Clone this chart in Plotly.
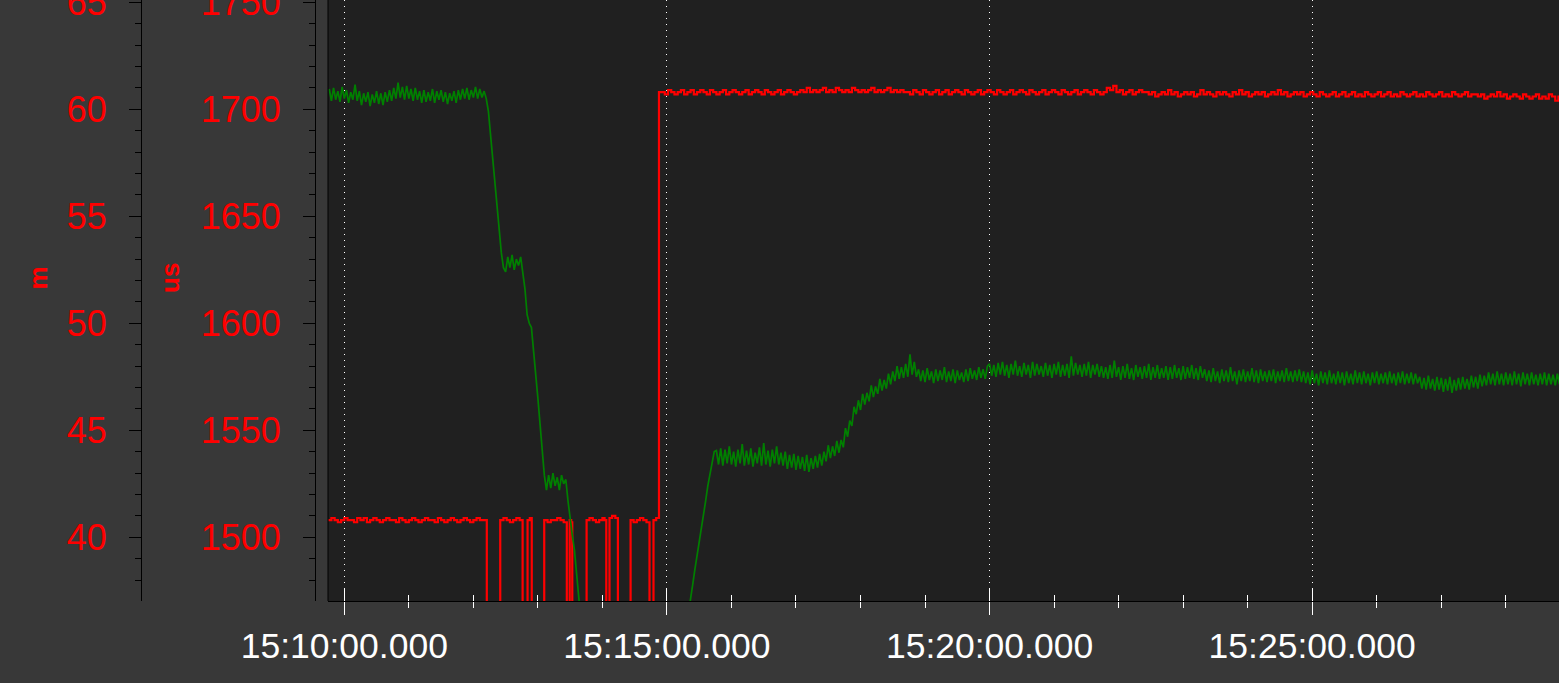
import pandas as pd
import plotly.graph_objects as go

# ---------------- data ----------------
BASE = pd.Timestamp("2024-01-01 15:10:00")

# green series: depth in m, sampled every 2 s starting at -14 s from 15:10:00
green_t0 = -14
green_step = 2
green_m = [
    # -14 .. 130 s
    60.95, 60.40, 61.00, 60.45, 60.85, 60.35, 61.05, 60.50, 60.90, 60.30,
    60.80, 60.45, 61.15, 60.40, 60.85, 60.20, 60.75, 60.35, 60.80, 60.15,
    60.70, 60.30, 60.85, 60.25, 60.75, 60.20, 60.80, 60.35, 60.90, 60.40,
    61.00, 60.50, 61.25, 60.55, 61.05, 60.45, 61.10, 60.50, 60.95, 60.40,
    61.00, 60.45, 60.85, 60.30, 60.90, 60.35, 60.80, 60.40, 60.95, 60.30,
    60.85, 60.45, 60.90, 60.35, 60.80, 60.25, 60.75, 60.40, 60.85, 60.30,
    60.90, 60.45, 60.95, 60.50, 61.00, 60.45, 60.90, 60.55, 61.05, 60.50,
    60.95, 60.55, 60.85,
    # 132 .. 218 s
    60.50, 59.90, 58.80, 57.60, 56.50, 55.40, 54.30, 53.30, 52.60,
    52.40, 53.10, 52.60, 53.20, 52.50, 53.00, 52.70, 53.10,
    52.30, 51.60, 50.40, 50.00, 49.80, 48.80, 47.60, 46.50, 45.30, 44.00, 42.90,
    42.20, 42.90, 42.30, 43.00, 42.40, 42.80, 42.20, 42.90, 42.50, 42.70,
    41.70, 40.80, 40.10, 39.40, 38.40, 37.40,
    # 220 .. 316 s (below the visible range)
    36.50, 35.00, 35.00, 35.00, 35.00, 35.00, 35.00, 35.00, 35.00, 35.00,
    35.00, 35.00, 35.00, 35.00, 35.00, 35.00, 35.00, 35.00, 35.00, 35.00,
    35.00, 35.00, 35.00, 35.00, 35.00, 35.00, 35.00, 35.00, 35.00, 35.00,
    35.00, 35.00, 35.00, 35.00, 35.00, 35.00, 35.00, 35.00, 35.00, 35.00,
    35.00, 35.00, 35.00, 35.00, 35.00, 35.00, 35.00, 35.00, 35.00,
    # 318 .. 344 s
    35.80, 36.40, 37.10, 37.80, 38.50, 39.10, 39.80, 40.40, 41.10, 41.70,
    42.40, 43.00, 43.60, 44.00,
    # 346 .. 444 s
    44.05, 43.40, 44.15, 43.35, 44.10, 43.45, 44.25, 43.40, 44.00, 43.30,
    44.10, 43.45, 44.35, 43.35, 44.05, 43.40, 44.15, 43.30, 43.95, 43.45,
    44.20, 43.35, 44.40, 43.40, 44.05, 43.30, 44.10, 43.45, 44.25, 43.40,
    43.95, 43.35, 44.00, 43.20, 43.85, 43.25, 43.90, 43.15, 43.80, 43.20,
    43.75, 43.10, 43.85, 43.05, 43.70, 43.20, 43.80, 43.25, 43.90, 43.35,
    # 446 .. 532 s
    44.00, 43.55, 44.30, 43.70, 44.25, 43.80, 44.50, 43.95, 44.55, 44.20,
    45.10, 44.70, 45.45, 45.20, 46.10, 45.75, 46.40, 45.95, 46.70, 46.20,
    46.75, 46.35, 47.10, 46.55, 47.05, 46.70, 47.40, 46.85, 47.35, 46.95,
    47.65, 47.15, 47.75, 47.30, 48.00, 47.40, 47.95, 47.45, 48.10, 47.50,
    48.55, 47.60, 48.20, 47.50,
    # 534 .. 598 s
    47.85, 47.30, 47.80, 47.25, 47.90, 47.35, 47.75, 47.20, 47.85, 47.30,
    47.80, 47.35, 47.95, 47.25, 47.75, 47.30, 47.85, 47.20, 47.80, 47.35,
    47.70, 47.25, 47.85, 47.30, 47.90, 47.40, 47.80, 47.35, 47.95, 47.45,
    47.85, 47.40, 48.00,
    # 600 .. 702 s
    48.10, 47.55, 48.05, 47.50, 48.15, 47.60, 48.20, 47.55, 48.05, 47.45,
    48.10, 47.60, 48.25, 47.55, 48.00, 47.50, 48.15, 47.60, 48.05, 47.45,
    48.20, 47.55, 48.10, 47.60, 48.00, 47.50, 48.15, 47.55, 48.05, 47.45,
    48.10, 47.60, 48.20, 47.50, 48.05, 47.55, 48.10, 47.45, 48.45, 47.55,
    48.15, 47.60, 48.05, 47.50, 48.10, 47.55, 48.20, 47.45, 48.05, 47.60,
    48.10, 47.50,
    # 704 .. 798 s
    48.00, 47.45, 47.95, 47.40, 48.05, 47.45, 48.25, 47.50, 47.95, 47.35,
    48.00, 47.45, 48.10, 47.40, 47.90, 47.35, 48.05, 47.50, 47.95, 47.40,
    48.00, 47.45, 48.10, 47.35, 47.95, 47.45, 48.05, 47.40, 47.90, 47.45,
    48.00, 47.35, 47.95, 47.40, 48.05, 47.45, 47.90, 47.35, 48.00, 47.40,
    47.95, 47.45, 48.05, 47.40, 47.90, 47.35, 48.00, 47.45,
    # 800 .. 890 s
    47.85, 47.30, 47.80, 47.25, 47.90, 47.30, 47.75, 47.20, 47.85, 47.30,
    47.80, 47.25, 47.95, 47.30, 47.75, 47.15, 47.80, 47.30, 47.85, 47.25,
    47.75, 47.30, 47.90, 47.25, 47.80, 47.20, 47.85, 47.30, 47.75, 47.25,
    47.80, 47.30, 47.85, 47.20, 47.75, 47.30, 47.80, 47.25, 47.90, 47.30,
    47.75, 47.25, 47.80, 47.30, 47.85, 47.25,
    # 892 .. 998 s
    47.75, 47.20, 47.70, 47.15, 47.80, 47.20, 47.65, 47.10, 47.75, 47.20,
    47.70, 47.15, 47.80, 47.20, 47.65, 47.15, 47.75, 47.20, 47.70, 47.10,
    47.75, 47.20, 47.65, 47.15, 47.80, 47.20, 47.70, 47.15, 47.75, 47.20,
    47.65, 47.10, 47.70, 47.20, 47.75, 47.15, 47.65, 47.20, 47.70, 47.15,
    47.75, 47.20, 47.65, 47.10, 47.70, 47.20, 47.75, 47.15, 47.65, 47.20,
    47.70, 47.15, 47.65, 47.20,
    # 1000 .. 1062 s
    47.50, 46.95, 47.45, 46.90, 47.55, 46.95, 47.40, 46.85, 47.50, 46.90,
    47.45, 46.80, 47.40, 46.85, 47.50, 46.75, 47.35, 46.85, 47.45, 46.90,
    47.50, 46.95, 47.40, 46.90, 47.55, 47.00, 47.50, 46.95, 47.60, 47.05,
    47.55, 47.10,
    # 1064 .. 1130 s
    47.70, 47.15, 47.65, 47.10, 47.75, 47.15, 47.65, 47.10, 47.70, 47.15,
    47.65, 47.10, 47.75, 47.15, 47.65, 47.05, 47.70, 47.15, 47.65, 47.10,
    47.70, 47.15, 47.60, 47.10, 47.65, 47.15, 47.70, 47.10, 47.65, 47.15,
    47.60, 47.10, 47.65, 47.15,
]

# red series: pulse width in us (step signal)
# low level before the first drop, sampled every 3 s from -15 s
red_lo_t0 = -15
red_lo_step = 3
red_lo_us = [
    1508, 1509, 1508, 1507, 1508, 1509, 1508, 1508, 1507, 1509,
    1508, 1509, 1507, 1508, 1509, 1508, 1507, 1508, 1509, 1508,
    1508, 1507, 1509, 1508, 1507, 1508, 1509, 1508, 1507, 1508,
    1509, 1508, 1508, 1507, 1509, 1508, 1507, 1508, 1509, 1508,
    1507, 1508, 1509, 1508, 1507, 1508, 1509, 1508, 1508,
]
# dropout section, irregular event times (s)
red_ev_t = [
    132.5, 145.0, 148, 151, 154, 157, 160, 163, 165.8, 170.4, 172.5, 174.3,
    185.9, 189, 192, 195, 198, 201, 204, 206.9, 209.6, 211, 212.0,
    225.3, 228, 231, 234, 237, 240, 242, 243.6, 246.6, 249, 252, 254.4,
    266.2, 269, 272, 275, 278, 281, 283.8, 287.5, 290, 292.6,
]
red_ev_us = [
    0, 1508, 1509, 1508, 1507, 1508, 1509, 1508, 0, 1508, 1509, 0,
    1508, 1507, 1508, 1508, 1509, 1508, 1507, 0, 1508, 1507, 0,
    1508, 1509, 1508, 1507, 1508, 1509, 1508, 0, 1509, 1510, 1509, 0,
    1508, 1507, 1508, 1509, 1508, 1507, 0, 1508, 1509, 1708,
]
# high level after the switch, sampled every 3 s from 295 s
red_hi_t0 = 295
red_hi_step = 3
red_hi_us = [
    1708, 1707, 1709, 1708, 1707, 1708, 1709, 1707, 1708, 1709,
    1707, 1708, 1709, 1708, 1707, 1709, 1708, 1707, 1708, 1709,
    1707, 1708, 1709, 1708, 1707, 1708, 1709, 1707, 1708, 1709,
    1708, 1707, 1709, 1708, 1707, 1708, 1709, 1707, 1708, 1709,
    1708, 1707, 1708,
    1709, 1708, 1710, 1708, 1709, 1708, 1709, 1710, 1708, 1709,
    1708, 1710, 1709, 1708, 1709, 1708, 1710, 1709, 1708, 1709,
    1708, 1709, 1710, 1708, 1709, 1708, 1709, 1710, 1708, 1709,
    1708, 1709, 1708,
    1708, 1707, 1709, 1708, 1707, 1709, 1708, 1707, 1708, 1709,
    1707, 1708, 1709, 1707, 1708, 1709, 1708, 1707, 1709, 1708,
    1707, 1708, 1709, 1707, 1708, 1709, 1708, 1707, 1709, 1708,
    1707, 1708, 1709, 1707, 1708, 1709, 1708, 1707, 1709, 1708,
    1707, 1708, 1709, 1707, 1708, 1709, 1708, 1707, 1709, 1708,
    1707, 1708, 1709, 1707, 1708, 1709, 1708, 1707, 1709, 1708,
    1707, 1708, 1710, 1709, 1711, 1708, 1709, 1707, 1708, 1709,
    1707, 1708, 1709, 1708,
    1708, 1707, 1708, 1706, 1707, 1708, 1707, 1709, 1707, 1708,
    1706, 1707, 1708, 1707, 1708, 1706, 1707, 1709, 1707, 1708,
    1707, 1706, 1708, 1707, 1708, 1707, 1706, 1708, 1707, 1709,
    1707, 1708, 1706, 1707, 1708, 1707, 1708, 1706, 1707, 1708,
    1707, 1709, 1707, 1708, 1706, 1707, 1708, 1707, 1708, 1706,
    1707, 1708,
    1707, 1706, 1708, 1707, 1706, 1707, 1708, 1706, 1707, 1708,
    1706, 1707, 1708, 1706, 1707, 1706, 1708, 1707, 1706, 1707,
    1708, 1706, 1707, 1708, 1706, 1707, 1706, 1708, 1707, 1706,
    1707, 1708, 1706, 1707, 1706, 1708, 1707, 1706, 1707, 1708,
    1706, 1707, 1706, 1708, 1707, 1706, 1707, 1708, 1706, 1707,
    1707, 1706, 1707, 1705, 1706, 1707, 1706, 1708, 1706, 1707,
    1705, 1706, 1707, 1706, 1705, 1707, 1706, 1705, 1706, 1707,
    1705, 1706, 1705, 1707, 1706, 1704, 1706, 1705,
]

x_start_s = -15.16
x_end_s = 1129.5
us_range = [1470.2, 1751.1]
m_range = [37.02, 65.11]

# ---------------- build ----------------
def ts(secs):
    return [BASE + pd.Timedelta(seconds=float(s)) for s in secs]

green_secs = [green_t0 + i * green_step for i in range(len(green_m))]
red_secs = ([red_lo_t0 + i * red_lo_step for i in range(len(red_lo_us))]
            + list(red_ev_t)
            + [red_hi_t0 + i * red_hi_step for i in range(len(red_hi_us))])
red_vals = list(red_lo_us) + list(red_ev_us) + list(red_hi_us)

W, H = 1559, 683
PLOT_LEFT = 328
BOTTOM = 82
FONT = "Liberation Sans, Arial, sans-serif"

fig = go.Figure()
fig.add_trace(go.Scatter(x=ts(red_secs), y=red_vals, mode="lines",
                         line=dict(color="#ff0000", width=2.2, shape="hv"),
                         xaxis="x", yaxis="y", hoverinfo="skip"))
fig.add_trace(go.Scatter(x=ts(green_secs), y=green_m, mode="lines",
                         line=dict(color="#008000", width=1.7),
                         xaxis="x", yaxis="y2", hoverinfo="skip"))
# carrier for the second (inside-tick) x axis
fig.add_trace(go.Scatter(x=[], y=[], xaxis="x2", yaxis="y", showlegend=False))

xr = [BASE + pd.Timedelta(seconds=x_start_s), BASE + pd.Timedelta(seconds=x_end_s)]
tick0 = BASE

common_x = dict(type="date", range=xr, tick0=tick0, dtick=300000,
                domain=[PLOT_LEFT / W, 1], anchor="y", zeroline=False, automargin=False)

fig.update_layout(
    width=W, height=H,
    margin=dict(l=0, r=0, t=0, b=BOTTOM, pad=0, autoexpand=False),
    paper_bgcolor="#383838", plot_bgcolor="#202020",
    showlegend=False,
    font=dict(family=FONT),
    xaxis=dict(**common_x,
               tickformat="%H:%M:%S.%L",
               ticks="outside", ticklen=13, tickwidth=1, tickcolor="white",
               tickfont=dict(size=35.5, color="white", family=FONT),
               ticklabelstandoff=0, ticklabeloverflow="allow",
               showgrid=True, gridcolor="white", gridwidth=1, griddash="1px,5px",
               minor=dict(dtick=60000, tick0=tick0, ticks="outside", ticklen=6,
                          tickwidth=1, tickcolor="white", showgrid=False),
               showline=True, linecolor="black", linewidth=1),
    xaxis2=dict(**common_x, overlaying="x",
                ticks="inside", ticklen=13, tickwidth=1, tickcolor="white",
                showticklabels=False, showgrid=False, showline=False,
                minor=dict(dtick=60000, tick0=tick0, ticks="inside", ticklen=6,
                           tickwidth=1, tickcolor="white", showgrid=False)),
    yaxis=dict(domain=[0, 1], range=us_range, anchor="free", position=315 / W, side="left",
               tick0=1500, dtick=50, ticks="outside", ticklen=12, tickwidth=1, tickcolor="black",
               minor=dict(tick0=1500, dtick=10, ticks="outside", ticklen=6, tickwidth=1,
                          tickcolor="black", showgrid=False),
               showline=True, linecolor="black", linewidth=1,
               showgrid=False, zeroline=False, automargin=False,
               tickfont=dict(size=36, color="#ff0000", family=FONT),
               ticklabelstandoff=15, ticklabeloverflow="allow"),
    yaxis2=dict(overlaying="y", range=m_range, anchor="free", position=141 / W, side="left",
                tick0=40, dtick=5, ticks="outside", ticklen=12, tickwidth=1, tickcolor="black",
                minor=dict(tick0=40, dtick=1, ticks="outside", ticklen=6, tickwidth=1,
                           tickcolor="black", showgrid=False),
                showline=True, linecolor="black", linewidth=1,
                showgrid=False, zeroline=False, automargin=False,
                tickfont=dict(size=36, color="#ff0000", family=FONT),
                ticklabelstandoff=15, ticklabeloverflow="allow"),
    shapes=[dict(type="line", xref="x domain", yref="y domain", x0=0, x1=0, y0=0, y1=1,
                 line=dict(color="black", width=1), layer="above")],
    annotations=[
        dict(text="<b>m</b>", x=37.5 / W, y=(H - BOTTOM - 278) / (H - BOTTOM),
             xref="paper", yref="paper", textangle=-90, showarrow=False,
             xanchor="center", yanchor="middle",
             font=dict(size=26, color="#ff0000", family=FONT)),
        dict(text="<b>us</b>", x=170 / W, y=(H - BOTTOM - 278) / (H - BOTTOM),
             xref="paper", yref="paper", textangle=-90, showarrow=False,
             xanchor="center", yanchor="middle",
             font=dict(size=26, color="#ff0000", family=FONT)),
    ],
)

fig.write_html("out.html", config={"displayModeBar": False},
               post_script="document.body.style.margin='0';document.body.style.overflow='hidden';")
